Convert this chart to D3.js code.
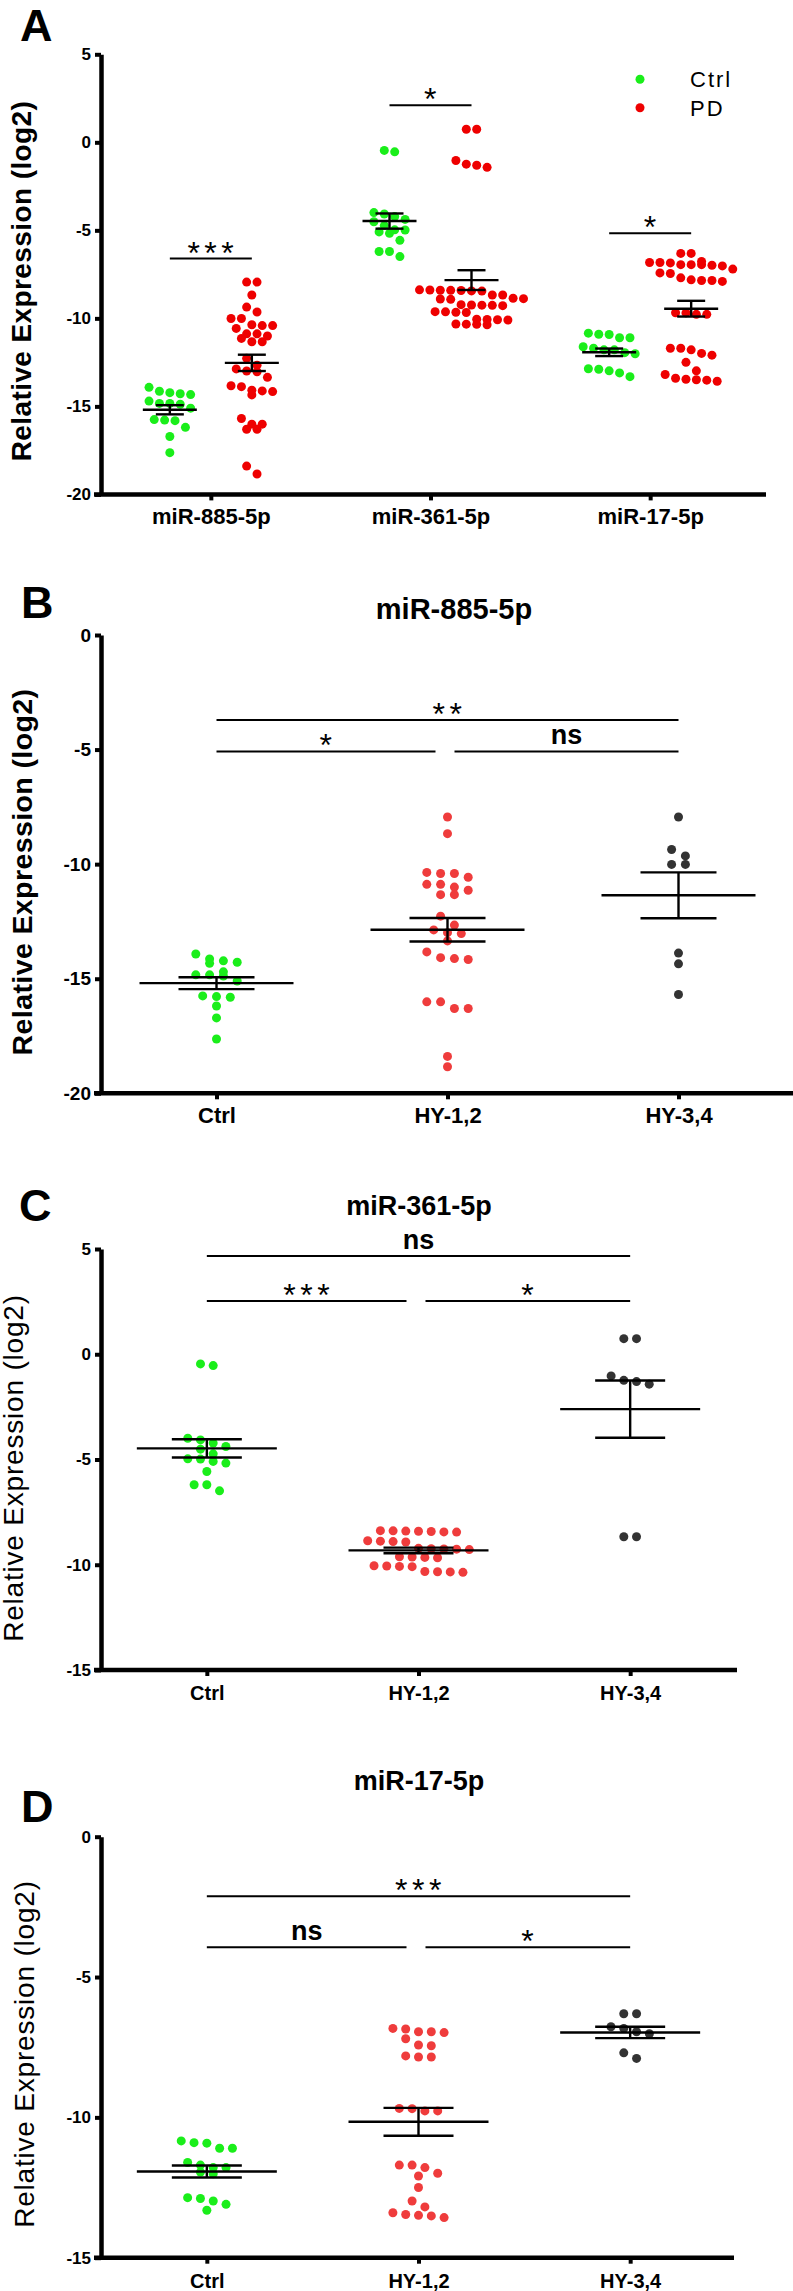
<!DOCTYPE html>
<html>
<head>
<meta charset="utf-8">
<script src="https://cdn.jsdelivr.net/npm/d3@7"></script>
<style>
  body { margin: 0; background: #fff; }
  svg { display: block; font-family: Arial, "Liberation Sans", sans-serif; }
</style>
</head>
<body>
<div id="chart"></div>
<script>
// ---- data (log2 relative expression) ----
var mirNames = ["miR-885-5p", "miR-361-5p", "miR-17-5p"];
var groupNames = ["Ctrl", "HY-1,2", "HY-3,4"];
var legendNames = ["Ctrl", "PD"];

var ctrl885 = [-13.92, -14.22, -14.33, -14.28, -14.14, -14.83, -14.88, -15.10, -14.83, -14.70,
               -15.75, -15.81, -15.78, -16.19, -16.71, -17.63];
var hy12_885 = [-7.94, -8.67, -10.41, -10.57, -10.41, -10.36, -10.88, -11.00, -10.88, -11.14,
                -11.33, -11.33, -12.27, -12.66, -12.87, -13.03, -12.99, -13.35, -13.83, -14.12,
                -14.16, -14.08, -16.01, -16.30, -16.30, -16.01, -18.39, -18.84];
var hy34_885 = [-7.94, -9.36, -9.64, -10.01, -10.01, -13.88, -14.35, -15.69];

var ctrl361 = [-0.54, -0.46, -3.99, -4.07, -4.22, -4.38, -4.51, -4.73, -4.98, -5.17,
               -5.09, -4.97, -5.57, -6.20, -6.20, -6.49];
var hy12_361 = [-8.40, -8.44, -8.38, -8.42, -8.41, -8.45, -8.39, -8.88, -8.92, -8.90,
                -8.86, -9.22, -9.26, -9.24, -9.28, -9.25, -9.63, -9.67, -9.65, -9.62,
                -10.05, -10.08, -10.06, -10.09, -10.32, -10.36, -10.34, -10.33];
var hy34_361 = [0.74, 0.74, -1.03, -1.30, -1.42, -1.24, -8.67, -8.67];

var ctrl17 = [-10.84, -10.92, -11.10, -11.10, -10.90, -11.61, -11.79, -11.95, -12.01, -11.79,
              -11.70, -12.86, -12.98, -13.31, -13.10, -12.89];
var hy12_17 = [-6.85, -6.95, -7.20, -6.98, -6.95, -6.83, -7.45, -7.42, -7.85, -7.85,
               -7.81, -9.69, -9.77, -9.77, -9.68, -11.70, -11.79, -12.09, -11.99, -11.70,
               -12.50, -12.98, -13.46, -13.51, -13.57, -13.49, -13.40, -13.19];
var hy34_17 = [-6.31, -6.31, -6.77, -6.83, -6.95, -7.02, -7.90, -7.70];

var ticksA = [5, 0, -5, -10, -15, -20];
var ticksB = [0, -5, -10, -15, -20];
var ticksC = [5, 0, -5, -10, -15];
var ticksD = [0, -5, -10, -15];

// significance bars: series indices + level in data units
var sigA = [{a: 0, b: 1, y: -6.6, label: "***"}, {a: 2, b: 3, y: 2.1, label: "*"}, {a: 4, b: 5, y: -5.16, label: "*"}];
var sigB = [{a: 0, b: 2, y: -3.71, label: "**"}, {a: 0, b: 1, y: -5.08, label: "*"}, {a: 1, b: 2, y: -5.08, label: "ns"}];
var sigC = [{a: 0, b: 2, y: 4.67, label: "ns"}, {a: 0, b: 1, y: 2.53, label: "***"}, {a: 1, b: 2, y: 2.53, label: "*"}];
var sigD = [{a: 0, b: 2, y: -2.12, label: "***"}, {a: 0, b: 1, y: -3.94, label: "ns"}, {a: 1, b: 2, y: -3.94, label: "*"}];

// ---- styles ----
var GREEN = "#1aee1a", RED_A = "#ee0000", RED = "#ef3c3c", DARK = "#333333";
var R = 4.5;

var svg = d3.select("#chart").append("svg")
  .attr("width", 793)
  .attr("height", 2291);

// series for the three miRNA panels
function subSeries(c, h12, h34) {
  return [
    {cat: 0, dx: 0, values: c, color: GREEN},
    {cat: 1, dx: 0, values: h12, color: RED},
    {cat: 2, dx: 0, values: h34, color: DARK}
  ];
}

var seriesA = [];
[[ctrl885, hy12_885, hy34_885], [ctrl361, hy12_361, hy34_361], [ctrl17, hy12_17, hy34_17]]
  .forEach(function(m, i) {
    seriesA.push({cat: i, dx: -41, values: m[0], color: GREEN});
    seriesA.push({cat: i, dx: 41, values: m[1].concat(m[2]), color: RED_A});
  });

var panels = [
  {letter: "A", lx: 20, ly: 41, cats: mirNames, series: seriesA, sig: sigA, gaps: false,
   top: 54.3, bottom: 494.4, domain: [-20, 5], ticks: ticksA, xr: [101, 760], axisEnd: 766,
   spacing: 10.4, meanHalf: 27, capHalf: 14, tickFont: 17, catFont: 22,
   ylab: {x: 31, y: 281, size: 28, weight: "bold"}, legend: true},
  {letter: "B", lx: 21, ly: 618, cats: groupNames, series: subSeries(ctrl885, hy12_885, hy34_885), sig: sigB, gaps: true,
   top: 635, bottom: 1093.3, domain: [-20, 0], ticks: ticksB, xr: [101, 794], axisEnd: 795,
   spacing: 13.8, meanHalf: 77, capHalf: 38, tickFont: 19, catFont: 22,
   ylab: {x: 32, y: 872, size: 28.5, weight: "bold"}, title: {text: mirNames[0], x: 454, y: 619, size: 29}},
  {letter: "C", lx: 19, ly: 1221, cats: groupNames, series: subSeries(ctrl361, hy12_361, hy34_361), sig: sigC, gaps: true,
   top: 1249, bottom: 1670, domain: [-15, 5], ticks: ticksC, xr: [101, 736], axisEnd: 737,
   spacing: 12.7, meanHalf: 70, capHalf: 35, tickFont: 17, catFont: 20,
   ylab: {x: 23, y: 1468, size: 28, weight: "normal"}, title: {text: mirNames[1], x: 419, y: 1215, size: 27}},
  {letter: "D", lx: 21, ly: 1822, cats: groupNames, series: subSeries(ctrl17, hy12_17, hy34_17), sig: sigD, gaps: true,
   top: 1836.7, bottom: 2257.7, domain: [-15, 0], ticks: ticksD, xr: [101, 736], axisEnd: 734,
   spacing: 12.8, meanHalf: 70, capHalf: 35, tickFont: 17, catFont: 20,
   ylab: {x: 34, y: 2054, size: 28, weight: "normal"}, title: {text: mirNames[2], x: 419, y: 1790, size: 27}}
];

// GraphPad-like scatter: bin into rows, centre each row around the group
function swarm(values, y, spacing, rowTol) {
  var pts = values.map(function(v) { return {v: v, y: y(v), x: 0}; });
  var sorted = pts.slice().sort(function(a, b) { return a.y - b.y; });
  var rows = [], cur = null;
  sorted.forEach(function(p) {
    if (!cur || p.y - cur[0].y >= rowTol) { cur = [p]; rows.push(cur); }
    else cur.push(p);
  });
  rows.forEach(function(row) {
    row.forEach(function(p, k) { p.x = (k - (row.length - 1) / 2) * spacing; });
  });
  return pts;
}

panels.forEach(function(p) {
  var g = svg.append("g");
  var y = d3.scaleLinear().domain(p.domain).range([p.bottom, p.top]);
  var x = d3.scalePoint().domain(p.cats).range(p.xr).padding(0.5);
  var cx = function(s) { return x(p.cats[s.cat]) + s.dx; };
  var axisX = p.xr[0];

  // panel letter
  g.append("text")
    .attr("x", p.lx).attr("y", p.ly)
    .attr("font-size", 45).attr("font-weight", "bold")
    .text(p.letter);

  if (p.title) {
    g.append("text")
      .attr("x", p.title.x).attr("y", p.title.y)
      .attr("text-anchor", "middle")
      .attr("font-size", p.title.size).attr("font-weight", "bold")
      .text(p.title.text);
  }

  // y axis label
  g.append("text")
    .attr("transform", "translate(" + p.ylab.x + "," + p.ylab.y + ") rotate(-90)")
    .attr("text-anchor", "middle")
    .attr("font-size", p.ylab.size)
    .attr("font-weight", p.ylab.weight)
    .attr("letter-spacing", p.ylab.weight === "bold" ? 0.4 : 0.8)
    .text("Relative Expression (log2)");

  // dots
  p.series.forEach(function(s) {
    var pts = swarm(s.values, y, p.spacing, 2 * R);
    g.append("g").selectAll("circle").data(pts)
      .enter().append("circle")
        .attr("cx", function(d) { return cx(s) + d.x; })
        .attr("cy", function(d) { return d.y; })
        .attr("r", R)
        .attr("fill", s.color);
  });

  // mean +/- SEM
  p.series.forEach(function(s) {
    var m = d3.mean(s.values);
    var sem = d3.deviation(s.values) / Math.sqrt(s.values.length);
    var c = cx(s);
    var eg = g.append("g").attr("stroke", "#000").attr("stroke-width", 2.4);
    eg.append("line").attr("x1", c - p.meanHalf).attr("x2", c + p.meanHalf).attr("y1", y(m)).attr("y2", y(m));
    eg.append("line").attr("x1", c).attr("x2", c).attr("y1", y(m - sem)).attr("y2", y(m + sem));
    [m - sem, m + sem].forEach(function(v) {
      eg.append("line").attr("x1", c - p.capHalf).attr("x2", c + p.capHalf).attr("y1", y(v)).attr("y2", y(v));
    });
  });

  // significance bars
  var last = p.series.length - 1;
  p.sig.forEach(function(d) {
    var x1 = cx(p.series[d.a]), x2 = cx(p.series[d.b]);
    if (p.gaps && d.a > 0 && d.a < last) x1 += 7;
    if (p.gaps && d.b > 0 && d.b < last) x2 -= 12;
    var ly = y(d.y);
    g.append("line")
      .attr("x1", x1).attr("x2", x2).attr("y1", ly).attr("y2", ly)
      .attr("stroke", "#000").attr("stroke-width", 2);
    var star = d.label.indexOf("*") >= 0;
    g.append("text")
      .attr("x", (x1 + x2) / 2 + (star ? 2 : 0))
      .attr("y", star ? ly + 5 : ly - 7)
      .attr("text-anchor", "middle")
      .attr("font-size", star ? 32 : 27)
      .attr("font-weight", star ? "normal" : "bold")
      .attr("letter-spacing", star ? 4.5 : 0)
      .text(d.label);
  });

  // axes
  var ya = g.append("g")
    .attr("transform", "translate(" + axisX + ",0)")
    .call(d3.axisLeft(y).tickValues(p.ticks).tickSize(6).tickSizeOuter(0).tickPadding(4)
      .tickFormat(function(d) { return String(d); }));
  ya.select(".domain").attr("stroke-width", 4.5);
  ya.selectAll(".tick line").attr("stroke-width", 4);
  ya.selectAll(".tick text")
    .attr("font-size", p.tickFont).attr("font-weight", "bold")
    .attr("font-family", null).attr("fill", "#000");

  var xa = g.append("g")
    .attr("transform", "translate(0," + p.bottom + ")")
    .call(d3.axisBottom(x).tickSize(6).tickSizeOuter(0));
  xa.select(".domain")
    .attr("d", "M" + (axisX - 7) + ",0H" + p.axisEnd)
    .attr("stroke-width", 4.5);
  xa.selectAll(".tick line").attr("stroke-width", 4);
  xa.selectAll(".tick text")
    .attr("y", 30).attr("dy", 0)
    .attr("font-size", p.catFont).attr("font-weight", "bold")
    .attr("font-family", null).attr("fill", "#000");

  // legend (panel A only)
  if (p.legend) {
    var lg = g.append("g").selectAll("g").data(legendNames)
      .enter().append("g")
        .attr("transform", function(d, i) { return "translate(640," + (79.3 + i * 28.4) + ")"; });
    lg.append("circle").attr("r", R)
      .attr("fill", function(d, i) { return i === 0 ? GREEN : RED_A; });
    lg.append("text")
      .attr("x", 50).attr("y", 8)
      .attr("font-size", 22).attr("letter-spacing", 2)
      .text(function(d) { return d; });
  }
});
</script>
</body>
</html>
